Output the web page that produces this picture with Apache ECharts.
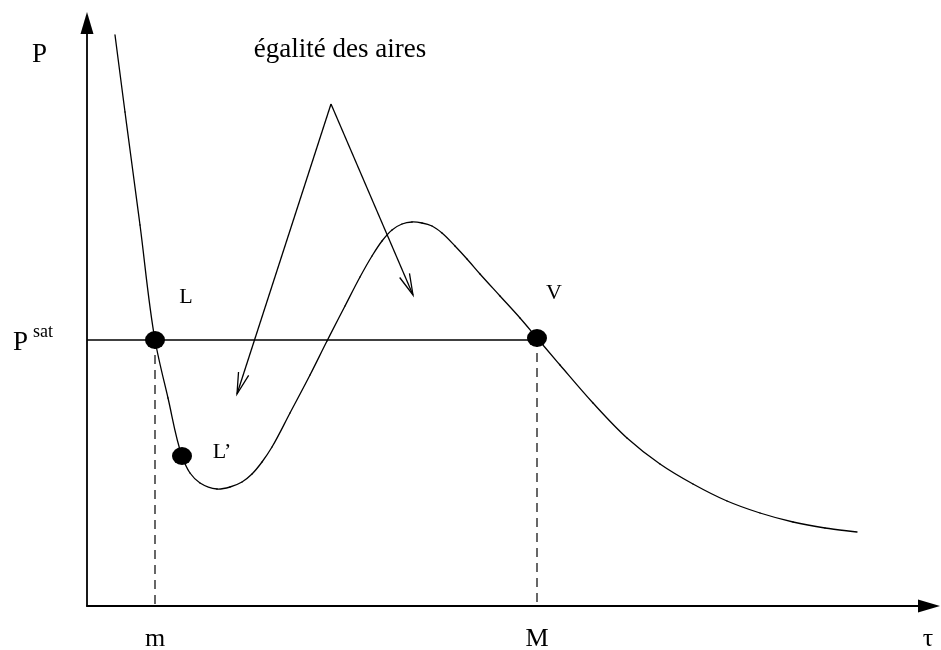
<!DOCTYPE html>
<html>
<head>
<meta charset="utf-8">
<script src="https://cdn.jsdelivr.net/npm/echarts@6/dist/echarts.min.js"></script>
<style>
  html, body { margin: 0; padding: 0; background: #fff; }
  #chart { width: 941px; height: 650px; }
</style>
</head>
<body>
<div id="chart"></div>
<script>
// Van der Waals type isotherm: specific volume tau against pressure P (arbitrary units)
const isoTau = [28, 38, 53, 68, 81, 95, 103, 113, 130, 143, 155, 165, 175, 185, 203, 223, 240, 258, 273, 285,
                295, 305, 315, 325, 335, 345, 355, 368, 380, 393, 413, 433, 450, 473, 506, 540, 573, 606, 640, 673,
                706, 738, 770];
const isoP   = [571, 494, 381, 266, 208, 150, 133, 123, 117, 119, 124, 132, 144, 159, 193, 231, 265, 300, 329, 350,
                365, 376, 382, 384, 383, 380, 373, 360, 347, 332, 310, 288, 268, 241, 203, 168, 142, 122, 105, 93,
                84, 78, 74];

// Saturation plateau and the marked states
const pSat = 266;
const tauM = 68;     // liquid volume m
const tauBigM = 450; // vapour volume M
const stateNames = ['L', 'L\u2019', 'V'];
const stateTau = [68, 95, 450];
const stateP = [266, 150, 268];

// Axis tick labels
const xTickValues = [68, 450, 841];
const xTickNames = ['m', 'M', '\u03c4'];
const yTickValues = [266, 551];

// "equal areas" annotation: common origin and the two arrow tips
const noteText = '\u00e9galit\u00e9 des aires';
const noteAnchor = [253, 556];
const arrowFrom = [244, 502];
const arrowTips = [[150, 212], [326, 311]];

const FONT = "'Liberation Serif', 'Times New Roman', serif";
const chart = echarts.init(document.getElementById('chart'), null, { renderer: 'canvas' });

const isoData = isoTau.map((t, i) => [t, isoP[i]]);
const stateOffsets = [[31, -43], [40, -4], [17, -45]];
const stateData = stateTau.map((t, i) => ({
  value: [t, stateP[i]],
  label: { offset: stateOffsets[i] }
}));
const arrowData = arrowTips.map(tip => [arrowFrom[0], arrowFrom[1], tip[0], tip[1]]);

// Unit tangent at point k in pixel space: bisector of the two adjacent chord directions
function unitTangent(pts, k) {
  const n = pts.length;
  const a = pts[Math.max(0, k - 1)], b = pts[k], c = pts[Math.min(n - 1, k + 1)];
  let ux = 0, uy = 0;
  if (k > 0) {
    const l = Math.hypot(b[0] - a[0], b[1] - a[1]);
    ux += (b[0] - a[0]) / l; uy += (b[1] - a[1]) / l;
  }
  if (k < n - 1) {
    const l = Math.hypot(c[0] - b[0], c[1] - b[1]);
    ux += (c[0] - b[0]) / l; uy += (c[1] - b[1]) / l;
  }
  const l = Math.hypot(ux, uy) || 1;
  return [ux / l, uy / l];
}

// Segment i -> i+1 of the isotherm as a cubic Bezier with chord-scaled tangents
function isoSegment(params, api) {
  const i = params.dataIndex;
  const n = isoData.length;
  if (i >= n - 1) return null;
  const pts = isoData.map(d => api.coord(d));
  const p1 = pts[i], p2 = pts[i + 1];
  const d = Math.hypot(p2[0] - p1[0], p2[1] - p1[1]) / 3;
  const t1 = unitTangent(pts, i), t2 = unitTangent(pts, i + 1);
  return {
    type: 'bezierCurve',
    shape: {
      x1: p1[0], y1: p1[1], x2: p2[0], y2: p2[1],
      cpx1: p1[0] + t1[0] * d, cpy1: p1[1] + t1[1] * d,
      cpx2: p2[0] - t2[0] * d, cpy2: p2[1] - t2[1] * d
    },
    style: { stroke: '#000', fill: null, lineWidth: 1.3, lineCap: 'round' }
  };
}

const option = {
  backgroundColor: '#fff',
  animation: false,
  grid: { left: 87, right: 12, top: 23, bottom: 44, containLabel: false, outerBoundsMode: 'none' },
  xAxis: {
    type: 'value', min: 0, max: 842,
    axisLine: { show: true, symbol: ['none', 'triangle'], symbolSize: [13, 22],
                lineStyle: { color: '#000', width: 1.8 } },
    axisTick: { show: false },
    splitLine: { show: false },
    axisLabel: {
      customValues: xTickValues,
      formatter: v => xTickNames[xTickValues.indexOf(v)] || '',
      margin: 20, color: '#000', fontFamily: FONT, fontSize: 26
    }
  },
  yAxis: {
    type: 'value', min: 0, max: 583,
    axisLine: { show: true, symbol: ['none', 'triangle'], symbolSize: [13, 22],
                lineStyle: { color: '#000', width: 1.8 } },
    axisTick: { show: false },
    splitLine: { show: false },
    axisLabel: {
      customValues: yTickValues,
      formatter: v => v === pSat ? '{p|P}{s|sat}' : '{q|P}',
      margin: 34, color: '#000', fontFamily: FONT,
      rich: {
        p: { fontSize: 27, fontFamily: FONT, color: '#000', padding: [6, 5, 0, 0] },
        s: { fontSize: 18, fontFamily: FONT, color: '#000', padding: [0, 0, 16, 0] },
        q: { fontSize: 27, fontFamily: FONT, color: '#000', padding: [0, 6, 0, 0] }
      }
    }
  },
  series: [
    {
      // the isotherm, drawn as a smooth spline through the points
      type: 'custom', data: isoData, encode: { x: 0, y: 1 }, z: 3,
      renderItem: isoSegment
    },
    {
      // saturation plateau from the P axis to V
      type: 'line', data: [[0, pSat], [tauBigM, pSat]], showSymbol: false,
      lineStyle: { color: '#000', width: 1.3 }, z: 3
    },
    {
      type: 'line', data: [[tauM, pSat], [tauM, 0]], showSymbol: false,
      lineStyle: { color: '#000', width: 1.2, type: [9, 6] }, z: 2
    },
    {
      type: 'line', data: [[tauBigM, stateP[2]], [tauBigM, 0]], showSymbol: false,
      lineStyle: { color: '#000', width: 1.2, type: [9, 6] }, z: 2
    },
    {
      // marked states L, L', V
      type: 'scatter', data: stateData, symbol: 'circle', symbolSize: [20, 18],
      itemStyle: { color: '#000', opacity: 1 }, z: 5,
      label: {
        show: true, position: 'inside',
        formatter: p => stateNames[p.dataIndex],
        color: '#000', fontFamily: FONT, fontSize: 22
      }
    },
    {
      // annotation arrows with open heads
      type: 'custom', data: arrowData, encode: { x: [0, 2], y: [1, 3] }, z: 4,
      renderItem: (params, api) => {
        const a = api.coord([api.value(0), api.value(1)]);
        const b = api.coord([api.value(2), api.value(3)]);
        const ang = Math.atan2(a[1] - b[1], a[0] - b[0]);
        const len = 22, half = 14 * Math.PI / 180;
        const p1 = [b[0] + len * Math.cos(ang + half), b[1] + len * Math.sin(ang + half)];
        const p2 = [b[0] + len * Math.cos(ang - half), b[1] + len * Math.sin(ang - half)];
        return {
          type: 'group',
          children: [
            { type: 'line', shape: { x1: a[0], y1: a[1], x2: b[0], y2: b[1] },
              style: { stroke: '#000', lineWidth: 1.3 } },
            { type: 'polyline', shape: { points: [p1, b, p2] },
              style: { stroke: '#000', fill: null, lineWidth: 1.3 } }
          ]
        };
      }
    },
    {
      // annotation text
      type: 'scatter', data: [noteAnchor], symbolSize: 0, silent: true,
      itemStyle: { color: '#000', opacity: 1 },
      label: {
        show: true, position: 'inside', formatter: noteText,
        color: '#000', fontFamily: FONT, fontSize: 27
      }
    }
  ]
};

chart.setOption(option);
</script>
</body>
</html>
